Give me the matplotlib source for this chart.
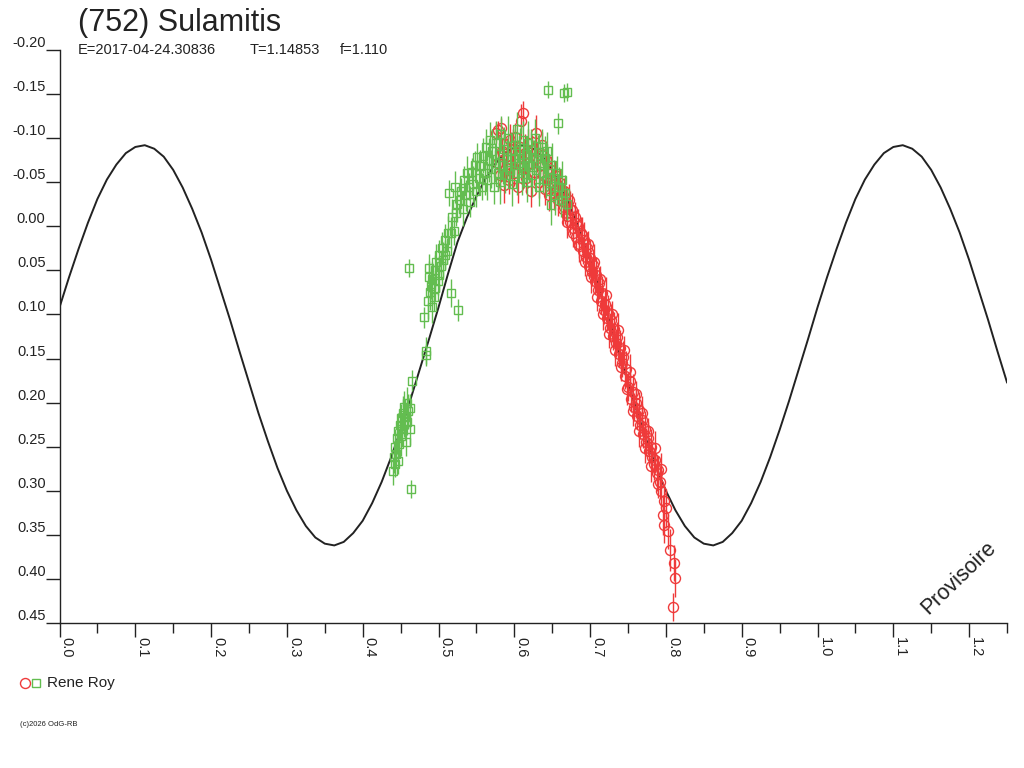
import numpy as np
import matplotlib
matplotlib.use("Agg")
import matplotlib.pyplot as plt
from matplotlib.lines import Line2D

plt.rcParams['font.family'] = ['Liberation Sans', 'DejaVu Sans']
plt.rcParams['axes.unicode_minus'] = False

# ---------------- data ----------------
title = "(752) Sulamitis"
sub_E = "E=2017-04-24.30836"
sub_T = "T=1.14853"
sub_f = "f=1.110"
observer = "Rene Roy"
copyright_txt = "(c)2026 OdG-RB"
watermark = "Provisoire"

y_ticks = [-0.20, -0.15, -0.10, -0.05, 0.00, 0.05, 0.10, 0.15, 0.20, 0.25, 0.30, 0.35, 0.40, 0.45]
x_major = [0.0, 0.1, 0.2, 0.3, 0.4, 0.5, 0.6, 0.7, 0.8, 0.9, 1.0, 1.1, 1.2]
x_minor = [0.05, 0.15, 0.25, 0.35, 0.45, 0.55, 0.65, 0.75, 0.85, 0.95, 1.05, 1.15, 1.25]

# fitted curve, sampled every 0.0125 in phase
curve_step = 0.0125
curve_mag = [
    0.092, 0.058, 0.026, -0.004, -0.031, -0.053, -0.070, -0.083, -0.090, -0.092,
    -0.088, -0.079, -0.064, -0.044, -0.020, 0.007, 0.038, 0.072, 0.106, 0.142,
    0.177, 0.212, 0.244, 0.274, 0.300, 0.322, 0.340, 0.353, 0.360, 0.362,
    0.358, 0.348, 0.334, 0.314, 0.290, 0.262, 0.231, 0.198, 0.163, 0.128,
    0.092, 0.054, 0.018, -0.010, -0.034, -0.055, -0.071, -0.083, -0.090, -0.092,
    -0.088, -0.079, -0.064, -0.044, -0.020, 0.007, 0.038, 0.072, 0.106, 0.142,
    0.177, 0.212, 0.244, 0.274, 0.300, 0.322, 0.340, 0.353, 0.360, 0.362,
    0.358, 0.348, 0.334, 0.314, 0.290, 0.262, 0.231, 0.198, 0.163, 0.128,
    0.092, 0.058, 0.026, -0.004, -0.031, -0.053, -0.070, -0.083, -0.090, -0.092,
    -0.088, -0.079, -0.064, -0.044, -0.020, 0.007, 0.038, 0.072, 0.106, 0.142,
    0.177,
]

# red session (circles)
red_phase = [
    0.576, 0.578, 0.579, 0.581, 0.582, 0.584, 0.586, 0.587, 0.589, 0.591,
    0.593, 0.594, 0.596, 0.598, 0.600, 0.601, 0.603, 0.605, 0.607, 0.609,
    0.611, 0.612, 0.614, 0.616, 0.618, 0.620, 0.622, 0.624, 0.626, 0.628,
    0.630, 0.632, 0.634, 0.636, 0.638, 0.640, 0.642, 0.644, 0.646, 0.648,
    0.650, 0.652, 0.654, 0.656, 0.658, 0.660, 0.662, 0.664, 0.666, 0.668,
    0.670, 0.672, 0.674, 0.676, 0.678, 0.680, 0.682, 0.684, 0.686, 0.688,
    0.690, 0.692, 0.694, 0.696, 0.698, 0.700, 0.702, 0.704, 0.706, 0.708,
    0.710, 0.712, 0.714, 0.716, 0.718, 0.720, 0.722, 0.724, 0.726, 0.728,
    0.730, 0.732, 0.734, 0.736, 0.738, 0.740, 0.742, 0.744, 0.746, 0.748,
    0.750, 0.752, 0.754, 0.756, 0.758, 0.760, 0.762, 0.764, 0.766, 0.768,
    0.770, 0.772, 0.774, 0.776, 0.778, 0.780, 0.782, 0.784, 0.786, 0.788,
    0.790, 0.792, 0.794, 0.796, 0.797, 0.798, 0.800, 0.803, 0.805, 0.811,
    0.812, 0.810,
    0.665, 0.669, 0.673, 0.677, 0.681, 0.685, 0.689, 0.693, 0.697, 0.701,
    0.705, 0.709, 0.713, 0.717, 0.721, 0.725, 0.729, 0.733, 0.737, 0.741,
    0.745, 0.749, 0.753, 0.757, 0.761, 0.765, 0.769, 0.773, 0.777, 0.781,
    0.785, 0.789, 0.793,
]
red_mag = [
    -0.106, -0.072, -0.109, -0.058, -0.111, -0.085, -0.047, -0.093, -0.066, -0.080,
    -0.052, -0.098, -0.070, -0.088, -0.060, -0.101, -0.075, -0.045, -0.090, -0.119,
    -0.128, -0.068, -0.083, -0.055, -0.095, -0.072, -0.040, -0.086, -0.062, -0.106,
    -0.078, -0.050, -0.070, -0.092, -0.058, -0.042, -0.075, -0.060, -0.035, -0.064,
    -0.050, -0.038, -0.058, -0.044, -0.030, -0.049, -0.035, -0.020, -0.040, -0.026,
    -0.012, -0.030, -0.005, -0.018, 0.002, -0.010, 0.012, 0.000, 0.020, 0.008,
    0.028, 0.015, 0.035, 0.025, 0.045, 0.036, 0.052, 0.044, 0.062, 0.055,
    0.072, 0.064, 0.085, 0.076, 0.095, 0.088, 0.104, 0.098, 0.115, 0.106,
    0.125, 0.117, 0.132, 0.126, 0.145, 0.138, 0.155, 0.148, 0.170, 0.162,
    0.182, 0.175, 0.196, 0.188, 0.205, 0.200, 0.215, 0.208, 0.225, 0.220,
    0.236, 0.230, 0.245, 0.240, 0.255, 0.250, 0.262, 0.270, 0.265, 0.280,
    0.276, 0.290, 0.300, 0.328, 0.312, 0.339, 0.320, 0.346, 0.367, 0.382,
    0.399, 0.4315,
    -0.022, -0.005, -0.020, 0.008, -0.004, 0.022, 0.010, 0.040, 0.020, 0.058,
    0.040, 0.080, 0.060, 0.100, 0.078, 0.122, 0.100, 0.140, 0.118, 0.160,
    0.140, 0.185, 0.165, 0.210, 0.190, 0.232, 0.212, 0.252, 0.232, 0.272,
    0.252, 0.292, 0.275,
]
red_err = [
    0.012, 0.015, 0.010, 0.018, 0.012, 0.015, 0.020, 0.014, 0.016, 0.020,
    0.015, 0.018, 0.016, 0.022, 0.014, 0.016, 0.020, 0.018, 0.015, 0.020,
    0.014, 0.018, 0.022, 0.016, 0.015, 0.020, 0.018, 0.016, 0.015, 0.020,
    0.016, 0.018, 0.020, 0.015, 0.014, 0.018, 0.016, 0.015, 0.018, 0.016,
    0.015, 0.020, 0.016, 0.015, 0.018, 0.016, 0.017, 0.018, 0.015, 0.020,
    0.016, 0.018, 0.015, 0.020, 0.016, 0.018, 0.015, 0.020, 0.016, 0.018,
    0.015, 0.020, 0.016, 0.018, 0.015, 0.020, 0.016, 0.018, 0.015, 0.020,
    0.016, 0.018, 0.015, 0.020, 0.016, 0.018, 0.015, 0.020, 0.016, 0.018,
    0.015, 0.020, 0.016, 0.018, 0.015, 0.020, 0.016, 0.018, 0.015, 0.020,
    0.016, 0.018, 0.015, 0.020, 0.016, 0.018, 0.015, 0.020, 0.016, 0.018,
    0.015, 0.020, 0.016, 0.018, 0.015, 0.020, 0.016, 0.018, 0.015, 0.020,
    0.016, 0.018, 0.020, 0.022, 0.018, 0.020, 0.022, 0.020, 0.024, 0.020,
    0.022, 0.016,
    0.015, 0.018, 0.020, 0.016, 0.015, 0.018, 0.020, 0.016, 0.015, 0.018,
    0.020, 0.016, 0.015, 0.018, 0.020, 0.016, 0.015, 0.018, 0.020, 0.016,
    0.015, 0.018, 0.020, 0.016, 0.015, 0.018, 0.020, 0.016, 0.015, 0.018,
    0.020, 0.016, 0.018,
]

# green session (squares)
green_phase = [
    0.440, 0.441, 0.442, 0.443, 0.444, 0.445, 0.446, 0.447, 0.448, 0.449,
    0.450, 0.451, 0.452, 0.453, 0.454, 0.455, 0.456, 0.457, 0.458, 0.459,
    0.460, 0.461, 0.462, 0.463, 0.464, 0.465, 0.484, 0.483, 0.481,
    0.486, 0.487, 0.488, 0.489, 0.490, 0.491, 0.492, 0.494, 0.495, 0.496,
    0.497, 0.499, 0.500, 0.501, 0.503, 0.504, 0.506, 0.508, 0.509, 0.511,
    0.513, 0.514, 0.516, 0.516, 0.518, 0.520, 0.522, 0.523, 0.526, 0.525,
    0.528, 0.530, 0.532, 0.534, 0.536, 0.538, 0.540, 0.542, 0.544, 0.546,
    0.548, 0.550, 0.551, 0.553, 0.555, 0.557, 0.559,
    0.561, 0.563, 0.564, 0.566, 0.568, 0.569, 0.571, 0.573, 0.574, 0.576,
    0.578, 0.580, 0.581, 0.583, 0.585, 0.587, 0.588, 0.590, 0.592, 0.594,
    0.595, 0.597, 0.599, 0.601, 0.603, 0.604, 0.606, 0.608, 0.610, 0.611,
    0.613, 0.615, 0.617, 0.618, 0.620, 0.622, 0.624, 0.626, 0.627, 0.629,
    0.631, 0.632, 0.634, 0.636, 0.638, 0.640, 0.642, 0.643, 0.644, 0.645,
    0.647, 0.649, 0.650, 0.652, 0.654, 0.656, 0.658, 0.659, 0.661, 0.663,
    0.666, 0.667, 0.670, 0.669,
]
green_mag = [
    0.278, 0.262, 0.270, 0.250, 0.258, 0.240, 0.266, 0.232, 0.247, 0.225,
    0.238, 0.218, 0.230, 0.212, 0.224, 0.205, 0.216, 0.245, 0.200, 0.222,
    0.210, 0.047, 0.206, 0.230, 0.298, 0.175, 0.146, 0.141, 0.103,
    0.085, 0.057, 0.047, 0.075, 0.068, 0.092, 0.060, 0.080, 0.050, 0.070,
    0.040, 0.062, 0.033, 0.055, 0.045, 0.025, 0.038, 0.032, 0.015, 0.028,
    0.008, -0.038, 0.076, 0.008, -0.011, 0.005, -0.045, -0.015, 0.095, -0.025,
    -0.030, -0.040, -0.020, -0.052, -0.035, -0.060, -0.045, -0.028, -0.062, -0.048,
    -0.070, -0.040, -0.079, -0.055, -0.068, -0.045, -0.080,
    -0.060, -0.090, -0.052, -0.075, -0.098, -0.065, -0.085, -0.045, -0.072, -0.095,
    -0.060, -0.082, -0.050, -0.105, -0.070, -0.088, -0.058, -0.076, -0.100, -0.064,
    -0.085, -0.048, -0.078, -0.092, -0.060, -0.110, -0.072, -0.086, -0.055, -0.098,
    -0.068, -0.082, -0.050, -0.094, -0.070, -0.088, -0.058, -0.078, -0.100, -0.064,
    -0.084, -0.045, -0.072, -0.090, -0.060, -0.078, -0.052, -0.085, -0.155, -0.065,
    -0.040, -0.024, -0.070, -0.055, -0.035, -0.060, -0.117, -0.045, -0.030, -0.052,
    -0.151, -0.038, -0.152, -0.025,
]
green_err = [
    0.015, 0.018, 0.014, 0.020, 0.016, 0.018, 0.015, 0.020, 0.016, 0.018,
    0.022, 0.016, 0.018, 0.020, 0.015, 0.018, 0.020, 0.016, 0.018, 0.015,
    0.020, 0.010, 0.016, 0.018, 0.010, 0.012, 0.012, 0.015, 0.012,
    0.020, 0.018, 0.016, 0.020, 0.015, 0.018, 0.020, 0.016, 0.018, 0.015,
    0.020, 0.016, 0.018, 0.020, 0.015, 0.018, 0.020, 0.016, 0.018, 0.015,
    0.020, 0.015, 0.016, 0.018, 0.020, 0.016, 0.018, 0.015, 0.012, 0.020,
    0.018, 0.015, 0.020, 0.016, 0.018, 0.020, 0.015, 0.018, 0.016, 0.020,
    0.015, 0.018, 0.016, 0.020, 0.018, 0.015, 0.020,
    0.025, 0.020, 0.022, 0.025, 0.020, 0.022, 0.025, 0.020, 0.022, 0.025,
    0.020, 0.022, 0.025, 0.020, 0.022, 0.025, 0.020, 0.022, 0.025, 0.020,
    0.022, 0.025, 0.020, 0.022, 0.025, 0.020, 0.022, 0.025, 0.020, 0.022,
    0.025, 0.020, 0.022, 0.025, 0.020, 0.022, 0.025, 0.020, 0.022, 0.025,
    0.020, 0.022, 0.025, 0.020, 0.022, 0.025, 0.020, 0.022, 0.010, 0.025,
    0.020, 0.022, 0.025, 0.020, 0.022, 0.020, 0.012, 0.022, 0.020, 0.022,
    0.010, 0.020, 0.010, 0.018,
]

# ---------------- style ----------------
W, H = 1024, 768
RED = '#ef3a3a'
GREEN = '#63bd50'
INK = '#222222'

fig = plt.figure(figsize=(W / 100, H / 100), dpi=100)
left_px, right_px, top_px, bottom_px = 59.5, 1007, 50, 623
ax = fig.add_axes([left_px / W, 1 - bottom_px / H,
                   (right_px - left_px) / W, (bottom_px - top_px) / H])

curve_phase = np.arange(len(curve_mag)) * curve_step
ax.plot(curve_phase, curve_mag, color=INK, lw=1.4, zorder=1)

ax.errorbar(red_phase, red_mag, yerr=red_err, fmt='o', ms=7.2, mfc='none',
            mec=RED, mew=1.0, ecolor=RED, elinewidth=1.0, capsize=0, zorder=2)
ax.errorbar(green_phase, green_mag, yerr=green_err, fmt='s', ms=6.2, mfc='none',
            mec=GREEN, mew=1.0, ecolor=GREEN, elinewidth=1.0, capsize=0, zorder=3)

ax.set_xlim(0, 1.25)
ax.set_ylim(0.45, -0.20)

for s in ('top', 'right'):
    ax.spines[s].set_visible(False)
for s in ('left', 'bottom'):
    ax.spines[s].set_color(INK)
    ax.spines[s].set_linewidth(1.0)

ax.set_yticks(y_ticks, labels=[f"{v:.2f}" for v in y_ticks])
ax.set_xticks(x_major, labels=[f"{v:.1f}" for v in x_major])
ax.set_xticks(x_minor, minor=True)
ax.tick_params(axis='y', direction='out', length=10, width=1, color=INK,
               pad=0, labelsize=10.5, labelcolor=INK)
ax.tick_params(axis='x', which='major', direction='out', length=10, width=1,
               color=INK, pad=0, labelsize=10.5, labelcolor=INK, labelrotation=270)
ax.tick_params(axis='x', which='minor', direction='out', length=7, width=1, color=INK)
for lab in ax.get_yticklabels():
    lab.set_verticalalignment('bottom')
for lab in ax.get_xticklabels():
    lab.set_horizontalalignment('left')
    lab.set_verticalalignment('top')

# texts
fig.text(78 / W, 1 - 31 / H, title, fontsize=22, color=INK, va='baseline', ha='left')
fig.text(78 / W, 1 - 54 / H, sub_E, fontsize=10.5, color=INK, va='baseline', ha='left')
fig.text(250 / W, 1 - 54 / H, sub_T, fontsize=10.5, color=INK, va='baseline', ha='left')
fig.text(340 / W, 1 - 54 / H, sub_f, fontsize=10.5, color=INK, va='baseline', ha='left')
fig.text(959 / W, 1 - 578 / H, watermark, fontsize=15.5, color=INK, rotation=44,
         ha='center', va='center', rotation_mode='anchor')

# legend
fig.add_artist(Line2D([24.5 / W], [1 - 683 / H], transform=fig.transFigure,
                      marker='o', ms=7.2, mfc='none', mec=RED, mew=1.0, ls='none'))
fig.add_artist(Line2D([36 / W], [1 - 683 / H], transform=fig.transFigure,
                      marker='s', ms=6.0, mfc='none', mec=GREEN, mew=1.0, ls='none'))
fig.text(47 / W, 1 - 683 / H, observer, fontsize=11, color=INK, va='center', ha='left')
fig.text(20 / W, 1 - 725 / H, copyright_txt, fontsize=5.5, color=INK, va='center',
         ha='left')

fig.savefig('out.png', dpi=100, facecolor='white')
